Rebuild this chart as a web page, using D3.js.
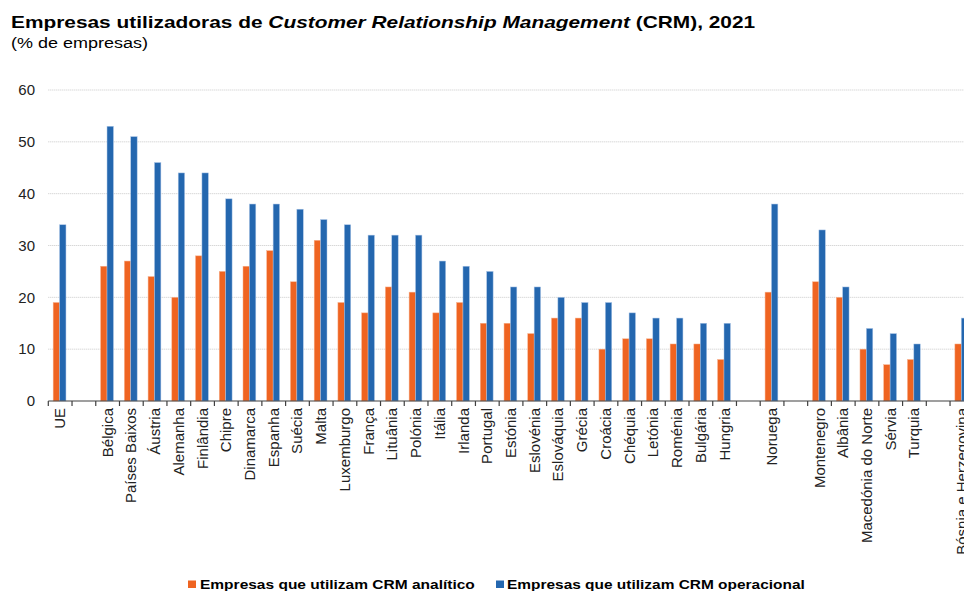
<!DOCTYPE html>
<html><head><meta charset="utf-8">
<script src="https://cdn.jsdelivr.net/npm/d3@7"></script>
<style>body{margin:0;background:#fff;overflow:hidden}svg{display:block;font-family:"Liberation Sans",Arial,sans-serif}</style>
</head><body><svg id="c" width="964" height="591"></svg>
<script>
const categories = ["UE","","Bélgica","Países Baixos","Áustria","Alemanha","Finlândia","Chipre","Dinamarca","Espanha","Suécia","Malta","Luxemburgo","França","Lituânia","Polónia","Itália","Irlanda","Portugal","Estónia","Eslovénia","Eslováquia","Grécia","Croácia","Chéquia","Letónia","Roménia","Bulgária","Hungria"," ","Noruega","  ","Montenegro","Albânia","Macedónia do Norte","Sérvia","Turquia","   ","Bósnia e Herzegovina"];
const analitico = [19,null,26,27,24,20,28,25,26,29,23,31,19,17,22,21,17,19,15,15,13,16,16,10,12,12,11,11,8,null,21,null,23,20,10,7,8,null,11];
const operacional = [34,null,53,51,46,44,44,39,38,38,37,35,34,32,32,32,27,26,25,22,22,20,19,19,17,16,16,15,15,null,38,null,33,22,14,13,11,null,16];
const yTicks = [0,10,20,30,40,50,60];
const seriesNames = ["Empresas que utilizam CRM analítico","Empresas que utilizam CRM operacional"];
const colors = ["#EF6421","#2467AF"];

const svg = d3.select("#c");
const x0 = 48.3, step = 23.73;
const x = d3.scaleBand().domain(categories).range([x0, x0 + step*categories.length]).paddingInner(0).paddingOuter(0);
const y = d3.scaleLinear().domain([0,60]).range([401,90]);

function fitWidth(sel, xPos, yPos, w){
  const bw = sel.node().getBBox().width;
  const k = w / bw;
  sel.attr("x",0).attr("y",0).attr("transform",`translate(${xPos},${yPos}) scale(${k},1)`);
}

// title
const t = svg.append("text").attr("font-size",16.5).attr("font-weight","bold").attr("fill","#000");
t.append("tspan").text("Empresas utilizadoras de ");
t.append("tspan").attr("font-style","italic").text("Customer Relationship Management");
t.append("tspan").text(" (CRM), 2021");
fitWidth(t, 11, 28, 745);
const st = svg.append("text").attr("font-size",15.5).attr("fill","#000").text("(% de empresas)");
fitWidth(st, 11, 48, 137);

// grid
svg.append("g").selectAll("line").data(yTicks.filter(d=>d>0)).join("line")
  .attr("x1",x0).attr("x2",964).attr("y1",d=>y(d)).attr("y2",d=>y(d))
  .attr("stroke","#c8c8c8").attr("stroke-width",1).attr("stroke-dasharray","1,1");

// y labels
svg.append("g").selectAll("text").data(yTicks).join("text")
  .attr("x",35).attr("y",d=>y(d)).attr("dy","0.35em").attr("text-anchor","end")
  .attr("font-size",15).attr("fill","#222").text(d=>d);

// bars
const bw = 6.4;
const gb = svg.append("g");
[analitico, operacional].forEach((vals,si)=>{
  gb.selectAll(null).data(categories.map((c,i)=>({c,v:vals[i]})).filter(d=>d.v!=null)).join("rect")
    .attr("x",d=>x(d.c)+x.bandwidth()/2 - bw + si*bw - 0.6)
    .attr("width",bw).attr("y",d=>y(d.v)).attr("height",d=>y(0)-y(d.v))
    .attr("fill",colors[si]).attr("stroke", si===0?"#f7b08c":"#a9c4e6").attr("stroke-width",0.5);
});

// x axis
const ax = svg.append("g").attr("transform","translate(0,401)");
ax.append("line").attr("x1",x0).attr("x2",964).attr("stroke","#404040").attr("stroke-width",1.2);
ax.selectAll(".tk").data(d3.range(categories.length+1)).join("line")
  .attr("x1",i=>x0+i*step).attr("x2",i=>x0+i*step).attr("y1",0).attr("y2",5)
  .attr("stroke","#404040").attr("stroke-width",1.2);
svg.append("g").selectAll("text").data(categories.filter(c=>c.trim()!=="")).join("text")
  .attr("transform",d=>`translate(${x(d)+x.bandwidth()/2+5},408) rotate(-90)`)
  .attr("text-anchor","end").attr("font-size",15).attr("fill","#222").text(d=>d);

// legend
const leg = [{sx:188, tx:200, w:275},{sx:496, tx:507, w:298}];
seriesNames.forEach((n,i)=>{
  svg.append("rect").attr("x",leg[i].sx).attr("y",580.5).attr("width",8).attr("height",7.5).attr("fill",colors[i]);
  const lt = svg.append("text").attr("font-size",13.5).attr("font-weight","bold").attr("fill","#000").text(n);
  fitWidth(lt, leg[i].tx, 588.5, leg[i].w);
});
</script></body></html>
